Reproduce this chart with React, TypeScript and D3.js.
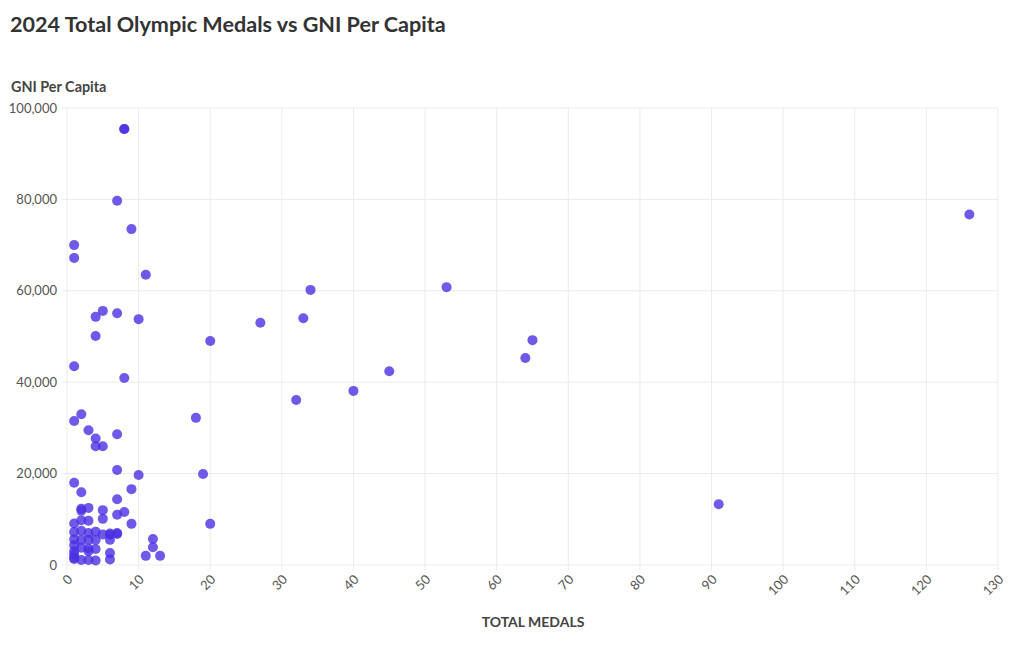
import React from "react";
import * as d3 from "d3";

const medals: number[] = [
  8, 7, 9, 1, 1, 11, 53, 34, 5, 7, 4, 10, 33, 27, 4, 20, 65, 64, 45, 1,
  8, 40, 32, 18, 2, 1, 3, 7, 4, 4, 5, 7, 10, 19, 1, 9, 2, 7, 91, 2,
  2, 3, 5, 8, 7, 5, 2, 3, 1, 9, 20, 1, 2, 3, 4, 5, 6, 7, 6, 1,
  2, 3, 4, 6, 12, 12, 1, 2, 3, 4, 1, 6, 11, 13, 1, 2, 3, 4, 6, 1,
  126, 8, 7, 3, 1,
];
const gniPerCapita: number[] = [
  95400, 79700, 73500, 70000, 67200, 63500, 60800, 60200, 55600, 55100, 54300, 53800, 54000, 53000, 50100, 49000, 49200, 45300, 42400, 43500,
  40900, 38100, 36100, 32200, 33000, 31500, 29500, 28600, 27700, 26000, 26000, 20800, 19700, 19900, 18000, 16600, 15900, 14400, 13300, 12300,
  11900, 12500, 12000, 11600, 11000, 10100, 9800, 9700, 9100, 9000, 9000, 7200, 7500, 7000, 7300, 6700, 6900, 6800, 5500, 5600,
  5500, 5500, 5500, 6600, 5700, 3900, 4300, 3800, 3600, 3500, 3000, 2600, 2000, 2000, 1600, 1100, 1100, 1000, 1200, 1300,
  76700, 95400, 7000, 3000, 2300,
];

const xTicks: number[] = d3.range(0, 131, 10);
const yTicks: number[] = [0, 20000, 40000, 60000, 80000, 100000];

const title = "2024 Total Olympic Medals vs GNI Per Capita";
const yTitle = "GNI Per Capita";
const xTitle = "TOTAL MEDALS";

const W = 1020;
const H = 650;
const left = 67;
const right = 998;
const top = 108;
const bottom = 565;
const FONT = "Lato, 'Open Sans', sans-serif";

export default function App() {
  const x = d3.scaleLinear().domain([0, 130]).range([left, right]);
  const y = d3.scaleLinear().domain([0, 100000]).range([bottom, top]);
  const fmt = d3.format(",");
  const pts = medals.map((m, i) => ({ m, g: gniPerCapita[i] }));
  return (
    <svg width={W} height={H} style={{ position: "absolute", left: 0, top: 0, background: "#fff" }} fontFamily={FONT}>
      <text x={10} y={32} fontSize={21.6} fontWeight={700} fill="#333">{title}</text>
      <text x={11} y={92} fontSize={14.4} fontWeight={700} fill="#444">{yTitle}</text>
      {xTicks.map((t) => (
        <line key={"gx" + t} x1={x(t)} x2={x(t)} y1={top} y2={bottom + 5} stroke="#ebebeb" strokeWidth={1} />
      ))}
      {yTicks.map((t) => (
        <line key={"gy" + t} x1={left - 5} x2={right} y1={y(t)} y2={y(t)} stroke="#ebebeb" strokeWidth={1} />
      ))}
      {yTicks.map((t) => (
        <text key={"ty" + t} x={left - 10} y={y(t)} dy="0.35em" textAnchor="end" fontSize={13} fill="#555">{fmt(t)}</text>
      ))}
      {xTicks.map((t) => (
        <text key={"tx" + t} transform={`translate(${x(t) + 3},${bottom + 12}) rotate(-45)`} textAnchor="end" dy="0.35em" fontSize={13} fill="#555">{t}</text>
      ))}
      <text x={533} y={627} textAnchor="middle" fontSize={14} fontWeight={700} fill="#444">{xTitle}</text>
      {pts.map((p, i) => (
        <circle key={i} cx={x(p.m)} cy={y(p.g)} r={5} fill="#4a30e4" fillOpacity={0.8} />
      ))}
    </svg>
  );
}
